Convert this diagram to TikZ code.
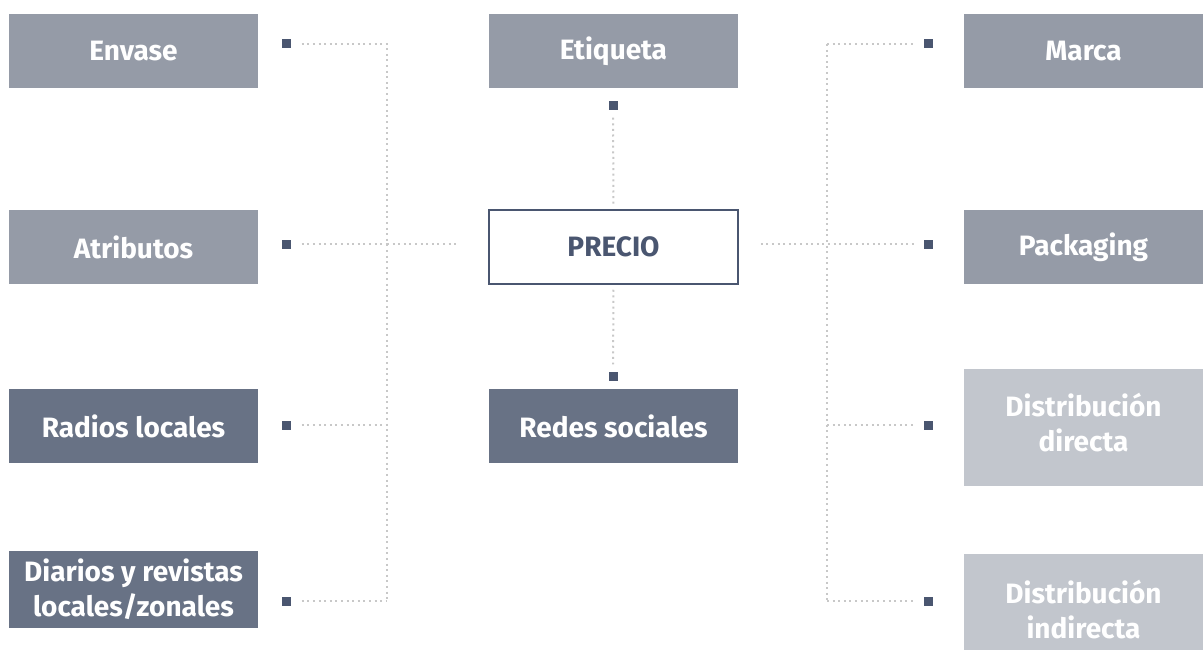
\documentclass[tikz,border=0pt]{standalone}
\usepackage{fontspec}
\setmainfont{Fira Sans}
\definecolor{midgray}{HTML}{959BA7}
\definecolor{darkgray}{HTML}{687285}
\definecolor{lightgray}{HTML}{C2C6CD}
\definecolor{sqblue}{HTML}{4A5670}
\definecolor{dotgray}{HTML}{C8C8C8}
\tikzset{
  box/.style={minimum width=249pt, minimum height=74pt, inner sep=0pt, align=center,
    text=white, font=\fontsize{28}{35}\selectfont\bfseries},
  midbox/.style={box, fill=midgray},
  darkbox/.style={box, fill=darkgray},
  lightbox/.style={box, fill=lightgray},
  mark sq/.style={fill=sqblue, minimum size=9pt, inner sep=0pt},
  dots/.style={draw=dotgray, line width=2pt, dash pattern=on 2pt off 3.6pt}
}
\begin{document}
\begin{tikzpicture}[x=1pt,y=-1pt]
\useasboundingbox (0,0) rectangle (1203,650);

% left column
\node[midbox] (envase) at (133.5,51) {Envase};
\node[midbox] (atrib) at (133.5,247) {Atributos};
\node[darkbox] (radios) at (133.5,426) {Radios locales};
\node[darkbox, minimum height=77pt] (diarios) at (133.5,589.5) {Diarios y revistas\\locales/zonales};

% middle column
\node[midbox] (etiq) at (613.5,51) {Etiqueta};
\node[box, fill=white, draw=sqblue, line width=1.5pt, text=sqblue] (precio) at (613.5,247) {PRECIO};
\node[darkbox] (redes) at (613.5,426) {Redes sociales};

% right column
\node[midbox, minimum width=239pt] (marca) at (1083.5,51) {Marca};
\node[midbox, minimum width=239pt] (pack) at (1083.5,247) {Packaging};
\fill[lightgray] (964,369) rectangle (1203,486);
\node[box, minimum width=239pt] (dirdir) at (1083.5,423) {Distribución\\directa};
\fill[lightgray] (964,554) rectangle (1203,650);
\node[box, minimum width=239pt] (dirind) at (1083.5,610) {Distribución\\indirecta};

% squares
\node[mark sq] (sqa) at (286,44) {};
\node[mark sq] (sqb) at (286,244) {};
\node[mark sq] (sqc) at (286,425) {};
\node[mark sq] (sqd) at (286,601) {};
\node[mark sq] (sqe) at (613,106) {};
\node[mark sq] (sqf) at (613,376) {};
\node[mark sq] (sqg) at (928,44) {};
\node[mark sq] (sqh) at (928,244) {};
\node[mark sq] (sqi) at (928,425) {};
\node[mark sq] (sqj) at (928,601) {};

% junctions
\coordinate (la) at (387,44);
\coordinate (lb) at (387,244);
\coordinate (lc) at (387,425);
\coordinate (ld) at (387,601);
\coordinate (ra) at (827,44);
\coordinate (rc) at (827,425);
\coordinate (rd) at (827,601);

% dotted links
\draw[dots, shorten <=11pt] (sqa) -- (la) -- (ld);
\draw[dots, shorten <=11pt] (sqd) -- (ld);
\draw[dots, shorten <=11pt] (sqb) -- (lb);
\draw[dots, shorten <=11pt] (sqc) -- (lc);
\draw[dots, shorten >=31pt] (lb) -- (precio.west |- lb);
\draw[dots, shorten <=22pt, shorten >=9pt] (precio.east |- sqh) -- (sqh.west);
\draw[dots] (ra) -- (rd);
\draw[dots, shorten >=9pt] (ra) -- (sqg.west);
\draw[dots, shorten >=9pt] (rc) -- (sqi.west);
\draw[dots, shorten >=9pt] (rd) -- (sqj.west);
\draw[dots, shorten <=7pt, shorten >=5pt] (sqe) -- (precio.north);
\draw[dots, shorten <=5pt, shorten >=7pt] (precio.south) -- (sqf);

\end{tikzpicture}
\end{document}
